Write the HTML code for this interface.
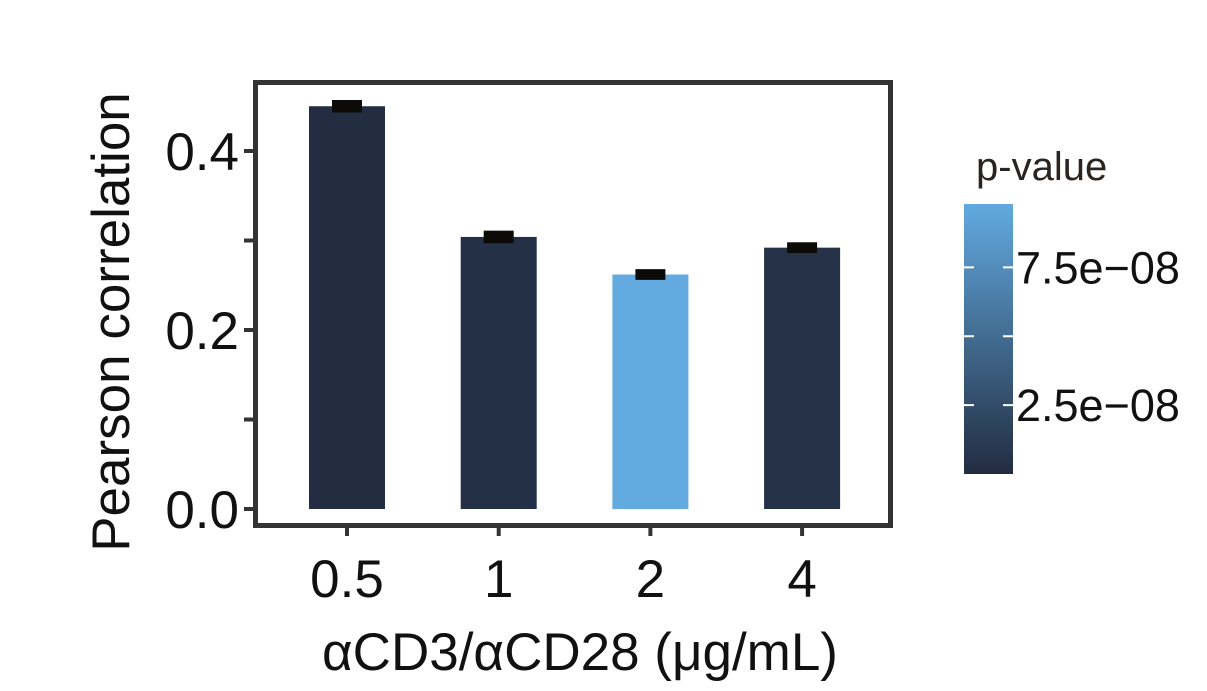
<!DOCTYPE html>
<html><head><meta charset="utf-8"><style>
body{margin:0;background:#fff;}
svg{display:block;font-family:"Liberation Sans",sans-serif;}
</style></head><body>
<svg id="c" width="1207" height="691"></svg>
<script>
const categories=["0.5","1","2","4"];
const values=[0.450,0.304,0.262,0.292];
const errors=[0.007,0.007,0.006,0.006];
const pvalues=[0.05e-8,0.3e-8,9.8e-8,0.4e-8];
const yTicks=[0.0,0.2,0.4];
const yMinor=[0.1,0.3];
const legendTicks=[2.5e-8,5e-8,7.5e-8];
const legendLabels=["2.5e\u221208","","7.5e\u221208"];

const NS="http://www.w3.org/2000/svg";
const svg=document.getElementById('c');
function mk(t,a,p){const e=document.createElementNS(NS,t);for(const k in a)e.setAttribute(k,a[k]);(p||svg).appendChild(e);return e;}
const y=v=>509-v*895;
const x=i=>347+i*151.7;
const pMin=0,pMax=9.8e-8;
const ly=v=>474-(v-pMin)/(pMax-pMin)*270;
function col(p){const t=(p-pMin)/(pMax-pMin);const a=[34,44,64],b=[98,170,224];
return `rgb(${a.map((c,i)=>Math.round(c+(b[i]-c)*t)).join(',')})`;}

const panel=mk('rect',{x:255.5,y:82.5,width:635,height:443,fill:'none',stroke:'#333',"stroke-width":5});



values.forEach((v,i)=>{
 const b=mk('rect',{x:x(i)-38,y:y(v),width:76,height:y(0)-y(v),fill:col(pvalues[i])});
 
 
 const e=mk('rect',{x:x(i)-15,y:y(v+errors[i]),width:30,height:y(v-errors[i])-y(v+errors[i]),fill:'#0d0b07'});
 
 
 const tk=mk('line',{x1:x(i),x2:x(i),y1:528,y2:536,stroke:'#333',"stroke-width":4});
 
 
 const tl=mk('text',{x:x(i),y:597,"font-size":53,"text-anchor":"middle",fill:'#111'});
 tl.textContent=categories[i];
 
 
});
yTicks.forEach(v=>{
 const tk=mk('line',{x1:244,x2:253,y1:y(v),y2:y(v),stroke:'#333',"stroke-width":4});
 
 
 const tl=mk('text',{x:239,y:y(v)+19,"font-size":53,"text-anchor":"end",fill:'#111'});
 tl.textContent=v.toFixed(1);
 
 
});
yMinor.forEach(v=>{
 const tk=mk('line',{x1:244,x2:253,y1:y(v),y2:y(v),stroke:'#333',"stroke-width":4});
 
 
});
const yt=mk('text',{x:0,y:0,"font-size":53,"text-anchor":"middle",fill:'#111',transform:'translate(129,322) rotate(-90)'});
yt.textContent='Pearson correlation';


const xt=mk('text',{x:580,y:670,"font-size":53,"text-anchor":"middle",fill:'#111'});
xt.textContent='\u03b1CD3/\u03b1CD28 (\u03bcg/mL)';



const defs=mk('defs',{});
const g=mk('linearGradient',{id:'lg',x1:0,y1:1,x2:0,y2:0},defs);
mk('stop',{offset:0,"stop-color":col(pMin)},g);
mk('stop',{offset:1,"stop-color":col(pMax)},g);
const lt=mk('text',{x:976,y:180,"font-size":40,fill:'#2a2420'});
lt.textContent='p-value';


const cb=mk('rect',{x:964,y:204,width:49,height:270,fill:'url(#lg)'});


legendTicks.forEach((v,i)=>{
 const a=mk('line',{x1:964,x2:974,y1:ly(v),y2:ly(v),stroke:'#fff',"stroke-width":2});
 
 
 const b=mk('line',{x1:1003,x2:1013,y1:ly(v),y2:ly(v),stroke:'#fff',"stroke-width":2});
 
 
 if(legendLabels[i]){
  const t=mk('text',{x:1016,y:ly(v)+16,"font-size":45,fill:'#111'});
  t.textContent=legendLabels[i];
  
  
 }
});
</script>
</body></html>
